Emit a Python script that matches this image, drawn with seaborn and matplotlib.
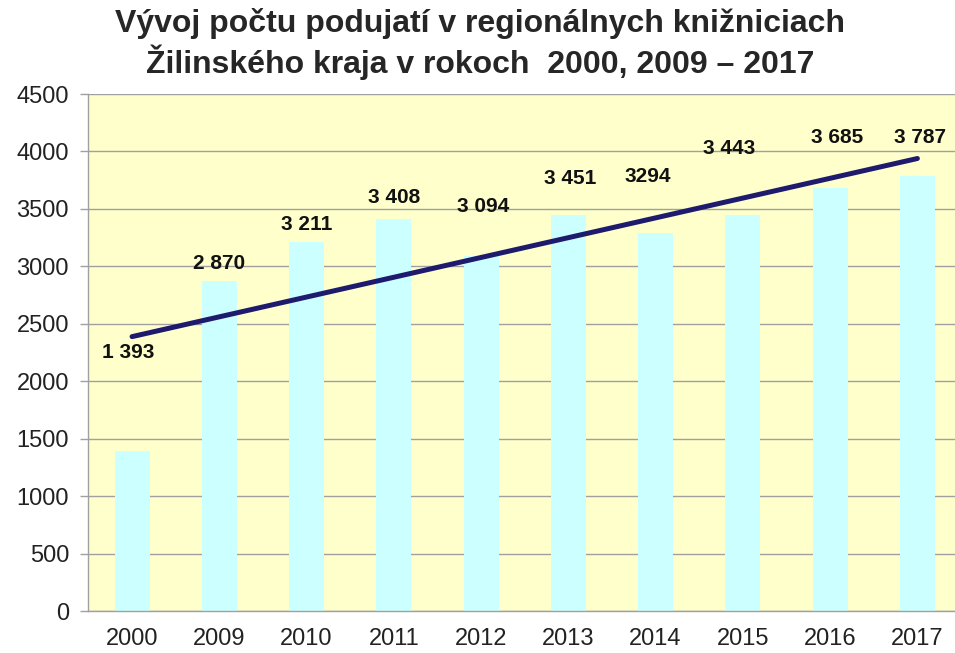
import numpy as np
import pandas as pd
import matplotlib
matplotlib.use('Agg')
import matplotlib.pyplot as plt
from matplotlib.ticker import FixedLocator, MultipleLocator
import seaborn as sns

years = ['2000', '2009', '2010', '2011', '2012', '2013', '2014', '2015', '2016', '2017']
counts = [1393, 2870, 3211, 3408, 3094, 3451, 3294, 3443, 3685, 3787]
labels = ['1 393', '2 870', '3 211', '3 408', '3 094', '3 451', '3294', '3 443', '3 685', '3 787']

# where each data label sits relative to its bar top (category units, value units)
label_shift = [(-0.05, 858), (0.0, 154), (0.0, 152), (0.0, 190), (0.02, 426),
               (0.02, 312), (-0.09, 486), (-0.16, 580), (0.08, 434), (0.03, 332)]

sns.set_style('white')
plt.rcParams['font.family'] = ['Liberation Sans', 'DejaVu Sans']

df = pd.DataFrame({'year': years, 'count': counts})

fig = plt.figure(figsize=(9.55, 6.53), dpi=100)
ax = fig.add_axes([0.0926, 0.0643, 0.9137, 0.7917])
ax.set_facecolor('#FFFFCC')

sns.barplot(data=df, x='year', y='count', color='#CCFFFF', width=0.4,
            saturation=1, linewidth=0, ax=ax, zorder=2)

# linear trend over the category positions
pos = np.arange(len(counts))
k, q = np.polyfit(pos, counts, 1)
ax.plot(pos, k * pos + q, color='#1E1B6E', lw=3.6, solid_capstyle='round', zorder=3)

for i, (txt, (dx, dy)) in enumerate(zip(labels, label_shift)):
    ax.text(i + dx, counts[i] + dy, txt, ha='center', va='center',
            fontsize=15, fontweight='bold', color='#111111', zorder=4)

ax.set_ylim(0, 4500)
ax.set_xlim(-0.5, len(years) - 0.5)
ax.yaxis.set_major_locator(MultipleLocator(500))
ax.grid(axis='y', color='#A0A0A0', lw=1, zorder=1)
ax.set_axisbelow(True)

ax.xaxis.set_minor_locator(FixedLocator(np.arange(-0.5, len(years), 1)))
ax.tick_params(axis='x', which='major', length=0, pad=12, labelsize=17, labelcolor='#222222')
ax.tick_params(axis='x', which='minor', length=5, color='#A0A0A0', width=1)
ax.tick_params(axis='y', length=6, color='#A0A0A0', width=1, labelsize=17,
               labelcolor='#222222', left=True, pad=8)

for s in ['top', 'right']:
    ax.spines[s].set_visible(False)
for s in ['left', 'bottom']:
    ax.spines[s].set_color('#A0A0A0')
    ax.spines[s].set_linewidth(1)

ax.set_xlabel('')
ax.set_ylabel('')

fig.text(0.503, 0.9326, 'Vývoj počtu podujatí v regionálnych knižniciach\n'
         'Žilinského kraja v rokoch  2000, 2009 – 2017',
         ha='center', va='center', fontsize=23, fontweight='bold', linespacing=1.2)

fig.savefig('out.png', dpi=100)
